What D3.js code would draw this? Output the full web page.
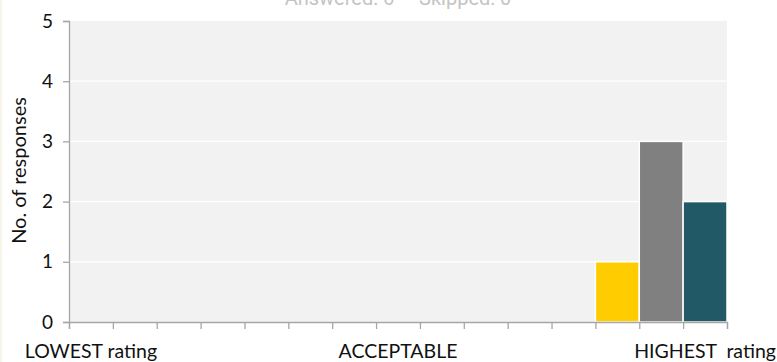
<!DOCTYPE html>
<html><head><meta charset="utf-8">
<script src="https://cdn.jsdelivr.net/npm/d3@7/dist/d3.min.js"></script>
<style>body{margin:0;background:#fff}svg{display:block}</style>
</head><body>
<script>
const categories = d3.range(1, 16).map(String);
const values = [0,0,0,0,0,0,0,0,0,0,0,0,1,3,2];
const barColors = ["#ffcc00","#ffcc00","#ffcc00","#ffcc00","#ffcc00","#ffcc00","#ffcc00","#ffcc00","#ffcc00","#ffcc00","#ffcc00","#ffcc00","#ffcc00","#808080","#225966"];
const tickLabels = {0:"LOWEST rating", 7:"ACCEPTABLE", 14:"HIGHEST\u00a0 rating"};
const yTicks = [0,1,2,3,4,5];
const title = "Answered: 6\u00a0\u00a0\u00a0\u00a0\u00a0Skipped: 0";

const W = 777, H = 362;
const m = {left:69, right:50, top:21, bottom:40};
const svg = d3.select("body").append("svg").attr("width", W).attr("height", H);

svg.append("rect").attr("x",0).attr("y",0).attr("width",2).attr("height",H).attr("fill","#f6f6e8");

const x = d3.scaleBand().domain(categories).range([m.left, W - m.right]).padding(0);
const y = d3.scaleLinear().domain([0,5]).range([H - m.bottom, m.top]);

svg.append("rect").attr("x", m.left).attr("y", m.top)
  .attr("width", x.range()[1]-m.left).attr("height", y(0)-m.top).attr("fill","#f2f2f2");

svg.append("g").selectAll("line").data(yTicks.filter(d=>d>0 && d<5)).join("line")
  .attr("x1", m.left).attr("x2", x.range()[1]).attr("y1", d=>y(d)).attr("y2", d=>y(d))
  .attr("stroke","#ffffff").attr("stroke-width",1.2);

svg.append("g").selectAll("rect").data(categories.map((c,i)=>({c, v:values[i], col:barColors[i]})).filter(d=>d.v>0)).join("rect")
  .attr("x", d=>x(d.c)).attr("width", x.bandwidth())
  .attr("y", d=>y(d.v)).attr("height", d=>y(0)-y(d.v))
  .attr("fill", d=>d.col).attr("stroke","#ffffff").attr("stroke-width",1.5);

const font = "Lato, 'Open Sans', sans-serif";

// y axis
const ya = svg.append("g").attr("transform",`translate(${m.left},0)`)
  .call(d3.axisLeft(y).tickValues(yTicks).tickSize(6).tickPadding(10).tickFormat(d3.format("d")));
ya.select(".domain").attr("stroke","#a6a6a6").attr("stroke-width",1.3);
ya.selectAll(".tick line").attr("stroke","#a6a6a6").attr("stroke-width",1.3);
ya.selectAll("text").attr("font-family",font).attr("font-size",19).attr("fill","#111");

// x axis
const xs = d3.scaleLinear().domain([0, categories.length]).range(x.range());
const xa = svg.append("g").attr("transform",`translate(0,${y(0)})`)
  .call(d3.axisBottom(xs).tickValues(d3.range(0, categories.length+1)).tickSize(7).tickFormat(""));
xa.select(".domain").attr("stroke","#a6a6a6").attr("stroke-width",1.3);
xa.selectAll(".tick line").attr("stroke","#a6a6a6").attr("stroke-width",1.3);

svg.append("g").selectAll("text").data(Object.keys(tickLabels)).join("text")
  .attr("x", d=>x(categories[+d]) + x.bandwidth()/2).attr("y", 358)
  .attr("text-anchor","middle").attr("font-family",font).attr("font-size",19.5).attr("fill","#111")
  .text(d=>tickLabels[d]);

svg.append("text").attr("transform",`translate(26,${(m.top+y(0))/2 - 1}) rotate(-90)`)
  .attr("text-anchor","middle").attr("font-family",font).attr("font-size",20).attr("fill","#111")
  .text("No. of responses");

svg.append("text").attr("x",(m.left + x.range()[1])/2).attr("y",5)
  .attr("text-anchor","middle").attr("font-family","Roboto, sans-serif").attr("font-size",20).attr("fill","#c4c4c4")
  .attr("xml:space","preserve").text(title);
</script>
</body></html>
